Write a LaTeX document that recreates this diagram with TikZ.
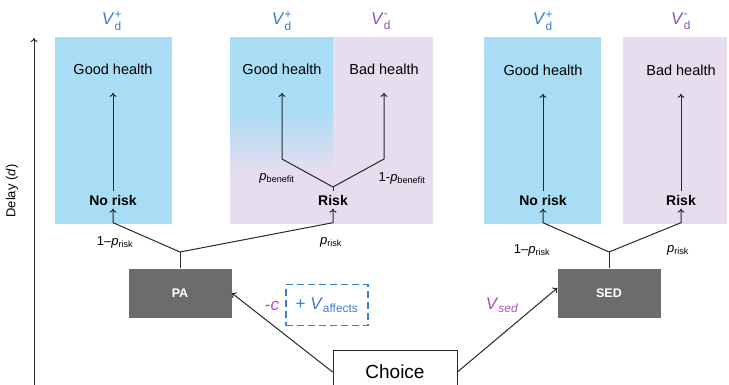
\documentclass[tikz,border=0pt]{standalone}
\usepackage{fontspec}
\usepackage{amsmath}
\setmainfont{Liberation Sans}
\usetikzlibrary{positioning,arrows.meta}
\definecolor{goodblue}{RGB}{168,221,245}
\definecolor{badlilac}{RGB}{230,221,238}
\definecolor{vplus}{RGB}{58,125,208}
\definecolor{vminus}{RGB}{136,84,184}
\definecolor{costpink}{RGB}{176,76,184}
\definecolor{actgray}{RGB}{108,108,108}
\definecolor{linegray}{RGB}{40,40,40}
\tikzset{
  state/.style={font=\fontsize{14.5}{16}\selectfont},
  outcome/.style={font=\fontsize{14}{16}\selectfont\bfseries},
  prob/.style={font=\fontsize{13}{15}\selectfont},
  value/.style={font=\fontsize{17}{19}\selectfont},
  action/.style={fill=actgray,text=white,minimum width=103pt,minimum height=49pt,
    font=\fontsize{12.5}{14}\selectfont\bfseries},
  arr/.style={-{To[length=4pt,width=7pt]},line width=1pt,draw=linegray},
  link/.style={line width=1pt,draw=linegray}
}
\newcommand{\Vd}[1]{\textit{V}$^{\text{#1}}_{\text{d}}$}
\newcommand{\pr}[1]{\textit{p}$_{\text{#1}}$}
\begin{document}
\begin{tikzpicture}[x=1pt,y=-1pt]
  \useasboundingbox (0,0) rectangle (729,385);
  % value panels
  \fill[goodblue] (55,37) rectangle (172,224);
  \fill[badlilac] (230,37) rectangle (433,224);
  \fill[goodblue] (230,37) rectangle (333,110);
  \shade[top color=goodblue,bottom color=badlilac] (230,110) rectangle (333,170);
  \fill[goodblue] (484,37) rectangle (601,224);
  \fill[badlilac] (623,37) rectangle (727,224);

  \draw[arr] (34,390) -- (34,38);
  \node[rotate=90,font=\fontsize{13}{15}\selectfont] (delay) at (12,191) {Delay (\textit{d})};

  \node[value,text=vplus] (v1) at (112,21) {\Vd{+}};
  \node[value,text=vplus] (v2) at (282,21) {\Vd{+}};
  \node[value,text=vminus] (v3) at (381,21) {\Vd{-}};
  \node[value,text=vplus] (v4) at (543,21) {\Vd{+}};
  \node[value,text=vminus] (v5) at (681,21) {\Vd{-}};

  \node[state] (gh1) at (113,69) {Good health};
  \node[state] (gh2) at (282,69) {Good health};
  \node[state] (bh2) at (384,69) {Bad health};
  \node[state] (gh3) at (543,70) {Good health};
  \node[state] (bh4) at (681,70) {Bad health};

  \node[outcome] (nr1) at (113,200) {No risk};
  \node[outcome] (rk2) at (333,200) {Risk};
  \node[outcome] (nr3) at (543,200) {No risk};
  \node[outcome] (rk4) at (681,200) {Risk};

  \draw[arr] (nr1.north) -- ([yshift=-15pt]gh1.south);
  \draw[arr] (nr3.north) -- ([yshift=-15pt]gh3.south);
  \draw[arr] (rk4.north) -- ([yshift=-15pt]bh4.south);

  % benefit branch
  \coordinate (bfork) at (333,187);
  \draw[link] (rk2.north) -- (bfork);
  \draw[arr] (bfork) -- (282,159) -- ([yshift=-15pt]gh2.south);
  \draw[arr] (bfork) -- (384,159) -- ([yshift=-15pt]bh2.south);
  \node[prob] (pb1) at (277,178) {\pr{benefit}};
  \node[prob] (pb2) at (402,178) {1-\pr{benefit}};

  % actions
  \node[action] (pa) at (180,293) {PA};
  \node[action] (sed) at (609,293) {SED};
  \node[draw=linegray,line width=0.8pt,minimum width=124pt,minimum height=44pt,
    font=\fontsize{19}{21}\selectfont] (choice) at (395,372) {Choice};

  \coordinate (pafork) at (180,252);
  \draw[link] (pa.north) -- (pafork);
  \draw[arr] (pafork) -- ([yshift=-14pt]nr1.south) -- (nr1.south);
  \draw[arr] (pafork) -- ([yshift=-14pt]rk2.south) -- (rk2.south);
  \node[prob] (pa1) at (115,242) {1–\pr{risk}};
  \node[prob] (pa2) at (331,242) {\pr{risk}};

  \coordinate (sedfork) at (609,252);
  \draw[link] (sed.north) -- (sedfork);
  \draw[arr] (sedfork) -- ([yshift=-14pt]nr3.south) -- (nr3.south);
  \draw[arr] (sedfork) -- ([yshift=-14pt]rk4.south) -- (rk4.south);
  \node[prob] (sd1) at (532,250) {1–\pr{risk}};
  \node[prob] (sd2) at (678,250) {\pr{risk}};

  \draw[arr] (choice.west) -- (pa.east);
  \draw[arr] (choice.east) -- ([yshift=5pt]sed.west);
  \node[value,text=costpink] (cost) at (272,306) {-\textit{c}};
  \node[draw=vplus,dash pattern=on 7pt off 4pt,line width=1.2pt,text=vplus,
    minimum width=82pt,minimum height=41pt,
    font=\fontsize{17}{19}\selectfont] (affects) at (327,305)
    {+ \textit{V}$_{\text{affects}}$};
  \node[value,text=costpink] (vsed) at (502,305) {\textit{V}$_{\textit{sed}}$};
\end{tikzpicture}
\end{document}
